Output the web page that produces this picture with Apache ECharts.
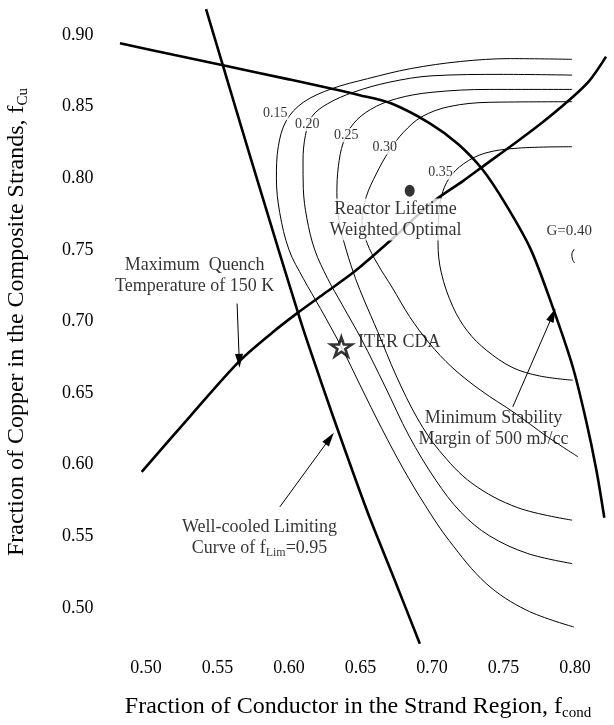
<!DOCTYPE html>
<html><head><meta charset="utf-8">
<script src="https://cdn.jsdelivr.net/npm/echarts@6/dist/echarts.min.js"></script>
<style>html,body{margin:0;padding:0;background:#fff}#c{width:614px;height:725px}</style>
</head><body><div id="c"></div>
<script>
// ---- data ----
const xTickLabels = ['0.50','0.55','0.60','0.65','0.70','0.75','0.80'];
const yTickLabels = ['0.50','0.55','0.60','0.65','0.70','0.75','0.80','0.85','0.90'];
const wellCooled = [[0.542,0.918],[0.5534,0.880],[0.5714,0.820],[0.5927,0.750],[0.6082,0.700],[0.6145,0.681],[0.6307,0.634],[0.6468,0.589],[0.6572,0.561],[0.6745,0.518],[0.6915,0.475]];
const quench = [[0.497,0.595],[0.531,0.634],[0.565,0.672],[0.588,0.692],[0.606,0.706],[0.624,0.719],[0.646,0.735],[0.6704,0.756],[0.700,0.783],[0.7216,0.798],[0.738,0.810],[0.756,0.823],[0.776,0.838],[0.796,0.8546],[0.810,0.868],[0.8217,0.8849]];
const stability = [[0.4818,0.8942],[0.520,0.886],[0.553,0.879],[0.600,0.869],[0.6494,0.858],[0.6713,0.8523],[0.6985,0.8383],[0.718,0.824],[0.7356,0.8057],[0.752,0.781],[0.7692,0.750],[0.7844,0.710],[0.7984,0.6684],[0.8077,0.631],[0.815,0.596],[0.8205,0.563]];
const g015 = [[0.798,0.883],[0.755,0.8835],[0.720,0.8815],[0.685,0.8765],[0.655,0.8695],[0.630,0.8625],[0.610,0.853],[0.598,0.840],[0.5925,0.822],[0.5912,0.800],[0.5935,0.776],[0.600,0.750],[0.610,0.730],[0.622,0.709],[0.6366,0.6823],[0.650,0.655],[0.665,0.625],[0.680,0.597],[0.695,0.572],[0.712,0.547],[0.738,0.517],[0.766,0.4985],[0.7992,0.4867]];
const g020 = [[0.798,0.872],[0.750,0.8725],[0.700,0.8715],[0.670,0.867],[0.645,0.860],[0.627,0.852],[0.616,0.843],[0.6115,0.830],[0.6098,0.812],[0.6100,0.793],[0.6125,0.772],[0.618,0.750],[0.627,0.730],[0.637,0.712],[0.651,0.687],[0.667,0.655],[0.684,0.620],[0.7026,0.5893],[0.720,0.567],[0.740,0.5505],[0.767,0.538],[0.798,0.531]];
const g025 = [[0.798,0.862],[0.740,0.862],[0.700,0.860],[0.675,0.8555],[0.657,0.848],[0.645,0.838],[0.638,0.825],[0.6345,0.808],[0.6335,0.790],[0.635,0.770],[0.640,0.750],[0.6465,0.730],[0.6525,0.715],[0.662,0.693],[0.675,0.662],[0.690,0.632],[0.705,0.610],[0.728,0.587],[0.760,0.570],[0.798,0.5613]];
const g030 = [[0.798,0.8534],[0.740,0.853],[0.712,0.850],[0.693,0.843],[0.680,0.832],[0.670,0.819],[0.661,0.803],[0.654,0.787],[0.651,0.770],[0.6545,0.755],[0.662,0.740],[0.672,0.724],[0.6844,0.7033],[0.698,0.685],[0.714,0.668],[0.734,0.652],[0.758,0.636],[0.780,0.620],[0.802,0.6056]];
const g035 = [[0.798,0.822],[0.760,0.821],[0.737,0.8175],[0.722,0.810],[0.712,0.800],[0.7065,0.787],[0.7045,0.770],[0.7042,0.755],[0.7065,0.734],[0.7146,0.7103],[0.725,0.693],[0.738,0.680],[0.756,0.668],[0.775,0.662],[0.7984,0.659]];
const g040 = [[0.7995,0.7505],[0.7978,0.747],[0.7982,0.7435],[0.7998,0.7408]];
const contourLabels = [['0.15',0.5904,0.8455],['0.20',0.6128,0.8378],['0.25',0.6401,0.8302],['0.30',0.6669,0.8214],['0.35',0.7059,0.804],['G=0.40',0.796,0.7633]];
const optimalPoint = [0.6844,0.7913];
const iterPoint = [0.6366,0.6823];
const notes = [
  {text:'{t|Reactor Lifetime}\n{t|Weighted Optimal}', pos:[0.6745,0.7712], align:'center', bg:true},
  {text:'{t|Maximum  Quench}\n{t|Temperature of 150 K}', pos:[0.534,0.7319], align:'center', bg:false},
  {text:'{t|Minimum Stability}\n{t|Margin of 500 mJ/cc}', pos:[0.743,0.6254], align:'center', bg:false},
  {text:'{t|Well-cooled Limiting}\n{t|Curve of f}{s|Lim}{t|=0.95}', pos:[0.5794,0.5492], align:'center', bg:false},
  {text:'{t|ITER CDA}', pos:[0.6483,0.6853], align:'left', bg:false}
];
const arrows = [
  [[0.5637,0.7125],[0.5652,0.6725]],
  [[0.5936,0.5706],[0.6285,0.6183]],
  [[0.7565,0.6404],[0.7844,0.7045]]
];

// ---- chart ----
const FONT = 'Liberation Serif';
function starPath(){let p='';for(let i=0;i<10;i++){const r=i%2?0.38:1;const a=-Math.PI/2+i*Math.PI/5;p+=(i?'L':'M')+(r*Math.cos(a)).toFixed(3)+' '+(r*Math.sin(a)).toFixed(3);}return 'path://'+p+'Z';}
const fmt = (list)=> (v)=>{const s=v.toFixed(2);return list.indexOf(s)>=0?s:'';};
const thick = (d)=>({type:'line',data:d,symbol:'none',smooth:0.3,lineStyle:{color:'#000',width:2.6},z:3,silent:true});
const thin = (d)=>({type:'line',data:d,symbol:'none',smooth:0.35,lineStyle:{color:'#000',width:1},z:2,silent:true});
const rich = {t:{fontFamily:FONT,fontSize:18,lineHeight:21,color:'#000'},s:{fontFamily:FONT,fontSize:12,lineHeight:12,padding:[9,0,0,0],color:'#000'}};

const chart = echarts.init(document.getElementById('c'),null,{renderer:'canvas'});
chart.setOption({
  backgroundColor:'#fff',
  animation:false,
  grid:{left:74.5,right:3.25,top:0.6,bottom:45.4,containLabel:false},
  xAxis:{type:'value',min:0.45,max:0.825,interval:0.05,axisLine:{show:false},axisTick:{show:false},splitLine:{show:false},
    axisLabel:{formatter:fmt(xTickLabels),margin:-20,fontFamily:FONT,fontSize:18,color:'#000',showMinLabel:true,showMaxLabel:true}},
  yAxis:{type:'value',min:0.45,max:0.924,interval:0.05,axisLine:{show:false},axisTick:{show:false},splitLine:{show:false},
    axisLabel:{formatter:fmt(yTickLabels),margin:-19,fontFamily:FONT,fontSize:18,color:'#000'}},
  series:[
    thick(wellCooled),thick(quench),thick(stability),
    thin(g015),thin(g020),thin(g025),thin(g030),thin(g035),thin(g040),
    {type:'scatter',data:[optimalPoint],symbol:'circle',symbolSize:[10,12],itemStyle:{color:'#000'},z:6,silent:true},
    {type:'scatter',data:[iterPoint],symbol:starPath(),symbolSize:[21,19],itemStyle:{color:'#fff',borderColor:'#000',borderWidth:2.6},z:6,silent:true},
    {type:'scatter',symbolSize:1,itemStyle:{color:'rgba(0,0,0,0)'},z:8,silent:true,
      data:contourLabels.map(c=>({value:[c[1],c[2]],label:{show:true,position:'inside',formatter:c[0],fontFamily:FONT,fontSize:c[0].length>4?15:14,color:'#000',backgroundColor:c[0].length>4?'transparent':'#fff',padding:[0,1]}}))},
    {type:'scatter',symbolSize:1,itemStyle:{color:'rgba(0,0,0,0)'},z:9,silent:true,
      data:notes.map(n=>({value:n.pos,label:{show:true,position:'inside',formatter:n.text,rich:rich,align:n.align,verticalAlign:'middle',backgroundColor:n.bg?'#fff':'transparent'}}))},
    {type:'line',data:[],symbol:'none',silent:true,z:5,
      markLine:{silent:true,symbol:['none','triangle'],symbolSize:[8,14],animation:false,label:{show:false},
        lineStyle:{color:'#000',width:1,type:'solid'},
        data:arrows.map(a=>[{coord:a[0]},{coord:a[1]}])}}
  ],
  graphic:[
    {type:'text',x:358,y:707,style:{text:'{a|Fraction of Conductor in the Strand Region, f}{s|cond}',align:'center',verticalAlign:'middle',
      rich:{a:{fontFamily:FONT,fontSize:24,lineHeight:26,fill:'#000'},s:{fontFamily:FONT,fontSize:15,lineHeight:15,padding:[12,0,0,0],fill:'#000'}}}},
    {type:'text',x:17,y:322,rotation:Math.PI/2,style:{text:'{a|Fraction of Copper in the Composite Strands, f}{s|Cu}',align:'center',verticalAlign:'middle',
      rich:{a:{fontFamily:FONT,fontSize:24,lineHeight:26,fill:'#000'},s:{fontFamily:FONT,fontSize:15,lineHeight:15,padding:[12,0,0,0],fill:'#000'}}}}
  ]
});
</script></body></html>
